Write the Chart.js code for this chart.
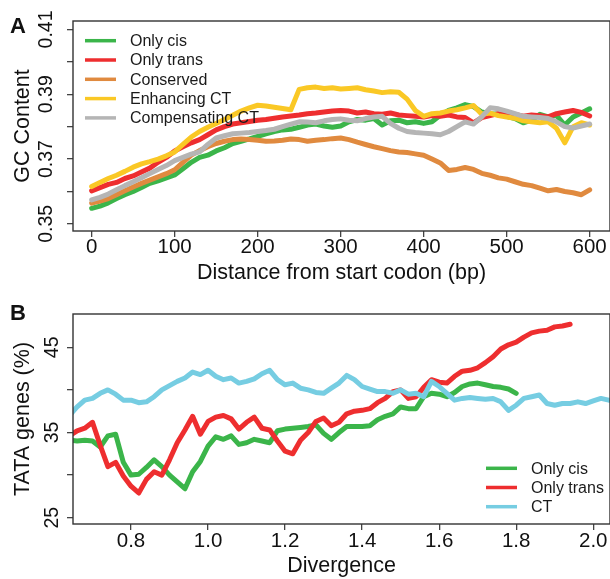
<!DOCTYPE html>
<html>
<head>
<meta charset="utf-8">
<script src="https://cdn.jsdelivr.net/npm/chart.js@4.4.1/dist/chart.umd.min.js"></script>
<style>
  body { margin: 0; background: #fff; width: 610px; height: 579px; position: relative; overflow: hidden; }
  canvas { position: absolute; left: 0; }
  #chartA { top: 0; }
  #chartB { top: 290px; }
  .panel-tag { position: absolute; font: bold 22px "Liberation Sans", Arial, sans-serif; line-height: 22px; color: #111; }
</style>
</head>
<body>
<canvas id="chartA" width="610" height="290"></canvas>
<canvas id="chartB" width="610" height="289"></canvas>
<div class="panel-tag" style="left:10px; top:15px">A</div>
<div class="panel-tag" style="left:10px; top:302px">B</div>
<script>
const fontFamily = '"Liberation Sans", Arial, Helvetica, sans-serif';

// Panel A: GC content by distance from the start codon
const bpPositions = [0, 10, 20, 30, 40, 50, 60, 70, 80, 90, 100, 110, 120, 130, 140, 150, 160, 170, 180, 190,
  200, 210, 220, 230, 240, 250, 260, 270, 280, 290, 300, 310, 320, 330, 340, 350, 360, 370, 380, 390,
  400, 410, 420, 430, 440, 450, 460, 470, 480, 490, 500, 510, 520, 530, 540, 550, 560, 570, 580, 590, 600];
const onlyCisGC = [
  .3548, .3555, .3565, .3578, .3590, .3600, .3612, .3625, .3633, .3642,
  .3651, .3670, .3690, .3705, .3712, .3725, .3735, .3748, .3755, .3762,
  .3770, .3778, .3785, .3790, .3792, .3798, .3805, .3808, .3802, .3798,
  .3802, .3815, .3822, .3820, .3825, .3805, .3818, .3820, .3812, .3815,
  .3810, .3815, .3835, .3850, .3858, .3868, .3862, .3845, .3840, .3838,
  .3832, .3825, .3812, .3820, .3838, .3830, .3835, .3805, .3830, .3842, .3855];
const onlyTransGC = [
  .3602, .3612, .3622, .3628, .3640, .3648, .3660, .3672, .3690, .3705,
  .3725, .3738, .3750, .3760, .3775, .3790, .3800, .3808, .3812, .3816,
  .3820, .3822, .3826, .3830, .3833, .3836, .3840, .3842, .3845, .3848,
  .3850, .3848, .3842, .3845, .3840, .3838, .3842, .3836, .3834, .3832,
  .3830, .3834, .3832, .3836, .3830, .3828, .3812, .3828, .3834, .3840,
  .3836, .3838, .3832, .3836, .3834, .3830, .3840, .3845, .3850, .3844, .3833];
const conservedGC = [
  .3564, .3570, .3578, .3590, .3602, .3614, .3625, .3635, .3645, .3655,
  .3667, .3690, .3712, .3726, .3738, .3748, .3755, .3760, .3762, .3760,
  .3758, .3755, .3756, .3758, .3762, .3760, .3755, .3758, .3760, .3763,
  .3765, .3760, .3752, .3745, .3738, .3732, .3726, .3722, .3720, .3716,
  .3712, .3700, .3688, .3665, .3668, .3674, .3668, .3656, .3650, .3642,
  .3638, .3630, .3622, .3618, .3610, .3602, .3606, .3600, .3596, .3590, .3605];
const enhancingGC = [
  .3615, .3628, .3640, .3650, .3662, .3675, .3685, .3692, .3700, .3710,
  .3722, .3745, .3768, .3785, .3798, .3810, .3822, .3835, .3848, .3858,
  .3866, .3864, .3860, .3856, .3852, .3915, .3920, .3922, .3918, .3920,
  .3916, .3918, .3920, .3914, .3910, .3905, .3908, .3906, .3885, .3850,
  .3832, .3840, .3842, .3848, .3852, .3858, .3865, .3838, .3842, .3834,
  .3830, .3826, .3818, .3815, .3812, .3815, .3795, .3750, .3800, .3812, .3805];
const compensatingGC = [
  .3574, .3582, .3592, .3605, .3618, .3630, .3642, .3655, .3668, .3680,
  .3695, .3705, .3715, .3722, .3745, .3765, .3772, .3778, .3780, .3782,
  .3785, .3788, .3792, .3800, .3808, .3815, .3814, .3812, .3818, .3822,
  .3824, .3820, .3818, .3825, .3830, .3832, .3810, .3795, .3785, .3782,
  .3780, .3778, .3775, .3785, .3800, .3815, .3808, .3830, .3858, .3855,
  .3848, .3840, .3832, .3830, .3828, .3825, .3815, .3800, .3796, .3802, .3808];
const gcTickLabels = ['0.35', '0.37', '0.39', '0.41'];

// Panel B: share of TATA genes by divergence
const divergence = [0.64, 0.66, 0.68, 0.70, 0.72, 0.74, 0.76, 0.78, 0.80, 0.82,
  0.84, 0.86, 0.88, 0.90, 0.92, 0.94, 0.96, 0.98, 1.00, 1.02,
  1.04, 1.06, 1.08, 1.10, 1.12, 1.14, 1.16, 1.18, 1.20, 1.22,
  1.24, 1.26, 1.28, 1.30, 1.32, 1.34, 1.36, 1.38, 1.40, 1.42,
  1.44, 1.46, 1.48, 1.50, 1.52, 1.54, 1.56, 1.58, 1.60, 1.62,
  1.64, 1.66, 1.68, 1.70, 1.72, 1.74, 1.76, 1.78, 1.80, 1.82,
  1.84, 1.86, 1.88, 1.90, 1.92, 1.94, 1.96, 1.98, 2.00, 2.02, 2.04, 2.06];
const onlyCisTata = [
  34.1, 34.0, 34.1, 34.0, 33.3, 34.6, 34.8, 31.5, 30.0, 30.1,
  30.9, 31.8, 31.0, 30.0, 29.2, 28.4, 30.4, 31.6, 33.4, 34.5,
  34.2, 34.6, 33.6, 33.8, 34.2, 34.0, 33.8, 35.2, 35.4, 35.5,
  35.6, 35.7, 35.9, 34.9, 34.2, 35.0, 35.7, 35.7, 35.7, 35.8,
  36.5, 36.9, 37.2, 38.0, 37.8, 37.8, 39.2, 39.6, 39.5, 39.2,
  39.7, 40.4, 40.7, 40.8, 40.6, 40.4, 40.3, 40.1, 39.6, null,
  null, null, null, null, null, null, null, null, null, null, null, null];
const onlyTransTata = [
  34.6, 35.2, 35.5, 36.2, 33.5, 31.0, 31.5, 29.9, 28.7, 27.9,
  29.5, 30.4, 30.0, 31.8, 33.8, 35.3, 36.9, 34.8, 36.3, 36.8,
  37.0, 36.6, 35.4, 36.2, 36.8, 35.5, 35.3, 34.0, 32.8, 32.5,
  34.1, 35.0, 36.3, 36.7, 35.8, 36.2, 37.2, 37.5, 37.6, 37.8,
  38.5, 39.0, 39.8, 40.0, 39.0, 39.2, 40.3, 41.2, 40.9, 40.8,
  41.6, 42.2, 42.3, 42.6, 43.2, 43.9, 44.8, 45.3, 45.6, 46.2,
  46.7, 46.9, 47.0, 47.4, 47.5, 47.7, null, null, null, null, null, null];
const ctTata = [
  37.0, 38.0, 38.8, 39.0, 39.6, 40.0, 39.5, 38.8, 38.8, 38.5,
  38.6, 39.2, 40.0, 40.5, 41.0, 41.4, 42.1, 41.8, 42.3, 41.6,
  41.2, 41.4, 40.8, 41.0, 41.3, 41.9, 42.3, 41.2, 40.6, 40.8,
  40.2, 40.0, 39.7, 39.6, 40.2, 40.8, 41.7, 41.2, 40.4, 40.1,
  39.8, 39.8, 39.6, 40.0, 39.5, 39.6, 39.2, 41.0, 40.4, 39.6,
  38.8, 39.0, 39.1, 39.0, 38.9, 39.0, 38.6, 37.6, 38.2, 39.0,
  39.2, 39.4, 38.4, 38.2, 38.4, 38.4, 38.6, 38.4, 38.7, 39.0, 38.8, 38.8];
const tataTickLabels = ['25', '35', '45'];

function series(label, xs, ys, color, order) {
  const points = [];
  xs.forEach((x, i) => {
    if (ys[i] !== null) points.push({ x: x, y: ys[i] });
  });
  return {
    label: label,
    data: points,
    borderColor: color,
    backgroundColor: color,
    borderWidth: 5,
    pointRadius: 0,
    tension: 0,
    borderJoinStyle: 'round',
    borderCapStyle: 'round',
    order: order,
  };
}

// box around the plot + legend drawn inside the plot region
const frameAndLegend = {
  id: 'frameAndLegend',
  afterDatasetsDraw(chart, args, opts) {
    const ctx = chart.ctx;
    const a = chart.chartArea;
    ctx.save();
    ctx.strokeStyle = '#333';
    ctx.lineWidth = 1.4;
    ctx.strokeRect(a.left, a.top, a.right - a.left, a.bottom - a.top);

    ctx.font = '16px ' + fontFamily;
    ctx.textBaseline = 'middle';
    ctx.textAlign = 'left';
    const x0 = opts.fromRight ? a.right - opts.fromRight : a.left + opts.left;
    chart.data.datasets.forEach((ds, i) => {
      const y = a.top + opts.top + i * opts.rowGap;
      ctx.strokeStyle = ds.borderColor;
      ctx.lineWidth = 3.5;
      ctx.beginPath();
      ctx.moveTo(x0, y);
      ctx.lineTo(x0 + 31, y);
      ctx.stroke();
      ctx.fillStyle = '#1a1a1a';
      ctx.fillText(ds.label, x0 + 45, y + 1);
    });
    ctx.restore();
  },
};

const gridStyle = { drawOnChartArea: false, tickLength: 6, color: '#444', lineWidth: 1.3 };
const xTickFont = { family: fontFamily, size: 20.5, lineHeight: 1 };
const yTickFont = { family: fontFamily, size: 19.5 };
const titleFont = { family: fontFamily, size: 21.5 };

new Chart(document.getElementById('chartA'), {
  type: 'line',
  data: {
    datasets: [
      series('Only cis', bpPositions, onlyCisGC, '#3bb54a', 5),
      series('Only trans', bpPositions, onlyTransGC, '#ee2e2f', 4),
      series('Conserved', bpPositions, conservedGC, '#e08a3f', 3),
      series('Enhancing CT', bpPositions, enhancingGC, '#fac825', 2),
      series('Compensating CT', bpPositions, compensatingGC, '#b5b5b5', 1),
    ],
  },
  options: {
    responsive: false,
    animation: false,
    events: [],
    layout: { padding: { top: 21, left: 0, right: 0, bottom: 0 } },
    plugins: {
      legend: { display: false },
      tooltip: { enabled: false },
      frameAndLegend: { left: 12, top: 19.7, rowGap: 19.3 },
    },
    scales: {
      x: {
        type: 'linear',
        min: -22.5,
        max: 624.5,
        border: { display: false },
        grid: gridStyle,
        ticks: {
          stepSize: 100, includeBounds: false, autoSkip: false, maxRotation: 0,
          padding: 0, color: '#111', font: xTickFont,
        },
        title: {
          display: true, text: 'Distance from start codon (bp)', color: '#111',
          font: titleFont, padding: { top: 0, bottom: 3.6 },
        },
        afterFit: (s) => { s.height = 59; },
      },
      y: {
        min: 0.3478,
        max: 0.4126,
        border: { display: false },
        grid: gridStyle,
        ticks: {
          stepSize: 0.01, includeBounds: false, autoSkip: false,
          minRotation: 90, maxRotation: 90, crossAlign: 'center',
          padding: 1.4, color: '#111', font: yTickFont,
          callback: (v) => {
            const t = v.toFixed(2);
            return gcTickLabels.includes(t) ? t : '';
          },
        },
        title: {
          display: true, text: 'GC Content', color: '#111',
          font: titleFont, padding: { top: 10.6, bottom: 0 },
        },
        afterFit: (s) => { s.width = 73; },
      },
    },
  },
  plugins: [frameAndLegend],
});

new Chart(document.getElementById('chartB'), {
  type: 'line',
  data: {
    datasets: [
      series('Only cis', divergence, onlyCisTata, '#3bb54a', 3),
      series('Only trans', divergence, onlyTransTata, '#ee2e2f', 2),
      series('CT', divergence, ctTata, '#76cde2', 1),
    ],
  },
  options: {
    responsive: false,
    animation: false,
    events: [],
    layout: { padding: { top: 24, left: 0, right: 0, bottom: 0 } },
    plugins: {
      legend: { display: false },
      tooltip: { enabled: false },
      frameAndLegend: { fromRight: 124, top: 154.3, rowGap: 19.2 },
    },
    scales: {
      x: {
        type: 'linear',
        min: 0.6494,
        max: 2.0435,
        border: { display: false },
        grid: gridStyle,
        ticks: {
          stepSize: 0.2, includeBounds: false, autoSkip: false, maxRotation: 0,
          padding: 1.2, color: '#111', font: xTickFont,
          callback: (v) => v.toFixed(1),
        },
        title: {
          display: true, text: 'Divergence', color: '#111',
          font: titleFont, padding: { top: 0, bottom: 0 },
        },
        afterFit: (s) => { s.height = 55; },
      },
      y: {
        min: 24.26,
        max: 48.91,
        border: { display: false },
        grid: gridStyle,
        ticks: {
          stepSize: 5, includeBounds: false, autoSkip: false,
          minRotation: 90, maxRotation: 90, crossAlign: 'center',
          padding: 3.9, color: '#111', font: yTickFont,
          callback: (v) => {
            const t = v.toFixed(0);
            return tataTickLabels.includes(t) ? t : '';
          },
        },
        title: {
          display: true, text: 'TATA genes (%)', color: '#111',
          font: titleFont, padding: { top: 10.6, bottom: 0 },
        },
        afterFit: (s) => { s.width = 73; },
      },
    },
  },
  plugins: [frameAndLegend],
});
</script>
</body>
</html>
